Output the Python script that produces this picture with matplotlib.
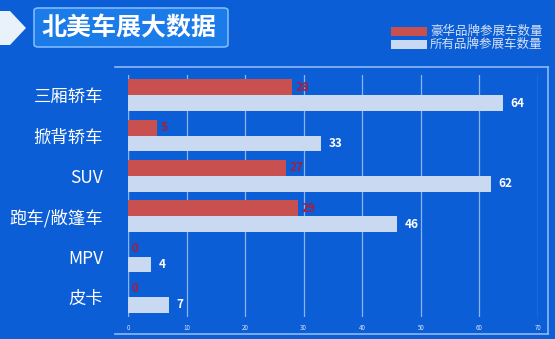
import matplotlib
matplotlib.use("Agg")
import matplotlib.pyplot as plt
from matplotlib.patches import FancyBboxPatch, Polygon, Rectangle
from matplotlib.lines import Line2D
import numpy as np

plt.rcParams['font.family'] = ['Noto Sans CJK SC', 'DejaVu Sans']

categories = ['三厢轿车', '掀背轿车', 'SUV', '跑车/敞篷车', 'MPV', '皮卡']
luxury = [28, 5, 27, 29, 0, 0]
all_brands = [64, 33, 62, 46, 4, 7]
xticks = [0, 10, 20, 30, 40, 50, 60, 70]
title = '北美车展大数据'
legend_labels = ['豪华品牌参展车数量', '所有品牌参展车数量']

BG = '#0b5ed6'
RED = '#c8504e'
PALE = '#c9d9f1'
GRID = '#8db3ee'
RED_TXT = '#a81d3a'

W, H = 555, 339
fig = plt.figure(figsize=(W / 100, H / 100), dpi=100)
fig.patch.set_facecolor(BG)

def fx(px):
    return px / W

def fy(py):
    return 1 - py / H

ax = fig.add_axes([fx(128), fy(317), fx(538) - fx(128), fy(75) - fy(317)])
ax.set_facecolor('none')

y = np.arange(len(categories))
h = 0.39
ax.barh(y - h / 2, luxury, height=h, color=RED, zorder=3)
ax.barh(y + h / 2, all_brands, height=h, color=PALE, zorder=3)

for yi, v in zip(y, luxury):
    ax.text(v + 0.6, yi - h / 2, str(v), color=RED_TXT, fontsize=8.5,
            fontweight='bold', va='center', ha='left', zorder=4)
for yi, v in zip(y, all_brands):
    ax.text(v + 1.2, yi + h / 2, str(v), color='white', fontsize=8.5,
            fontweight='bold', va='center', ha='left', zorder=4)

ax.set_xlim(0, 70)
ax.set_ylim(len(categories) - 0.5, -0.5)
ax.set_xticks(xticks)
ax.set_xticklabels([str(t) for t in xticks])
ax.set_yticks(y)
ax.set_yticklabels(categories)
ax.tick_params(axis='x', length=0, labelsize=4.5, labelcolor='#d8e6fb', pad=5)
ax.tick_params(axis='y', length=0, labelsize=12.5, labelcolor='white', pad=18)
ax.grid(axis='x', color=GRID, linewidth=0.9, zorder=1)
for s in ax.spines.values():
    s.set_visible(False)
ax.axvline(0, color=GRID, linewidth=0.9, zorder=1)

# outer frame lines
frame_c = '#8fb8f2'
fig.add_artist(Line2D([fx(115), fx(548)], [fy(67), fy(67)], color=frame_c, lw=1.2))
fig.add_artist(Line2D([fx(548), fx(548)], [fy(67), fy(334)], color=frame_c, lw=1.2))
fig.add_artist(Line2D([fx(115), fx(548)], [fy(334), fy(334)], color=frame_c, lw=1.2))

# title badge
badge = FancyBboxPatch((fx(34), fy(47)), fx(228) - fx(34), fy(8) - fy(47),
                       boxstyle='round,pad=0,rounding_size=0.008',
                       facecolor='#1a7be9', edgecolor='#7db9ff', lw=1.2,
                       transform=fig.transFigure)
fig.add_artist(badge)
fig.add_artist(Polygon([[fx(0), fy(11)], [fx(10), fy(11)], [fx(26), fy(28)],
                        [fx(10), fy(45)], [fx(0), fy(45)]], closed=True,
                       facecolor='#e9f1fb', edgecolor='none',
                       transform=fig.transFigure))
fig.text(fx(129), fy(28), title, color='white', fontsize=18, fontweight='heavy',
         ha='center', va='center')

# legend
fig.add_artist(Rectangle((fx(391), fy(36)), fx(427) - fx(391), fy(27) - fy(36),
                         facecolor=RED, edgecolor='none', transform=fig.transFigure))
fig.add_artist(Rectangle((fx(391), fy(49)), fx(427) - fx(391), fy(40) - fy(49),
                         facecolor=PALE, edgecolor='none', transform=fig.transFigure))
fig.text(fx(430), fy(31.5), legend_labels[0], color='#d6e2f5', fontsize=9,
         ha='left', va='center')
fig.text(fx(430), fy(44.5), legend_labels[1], color='#d6e2f5', fontsize=9,
         ha='left', va='center')

fig.savefig('out.png', dpi=100, facecolor=BG)
